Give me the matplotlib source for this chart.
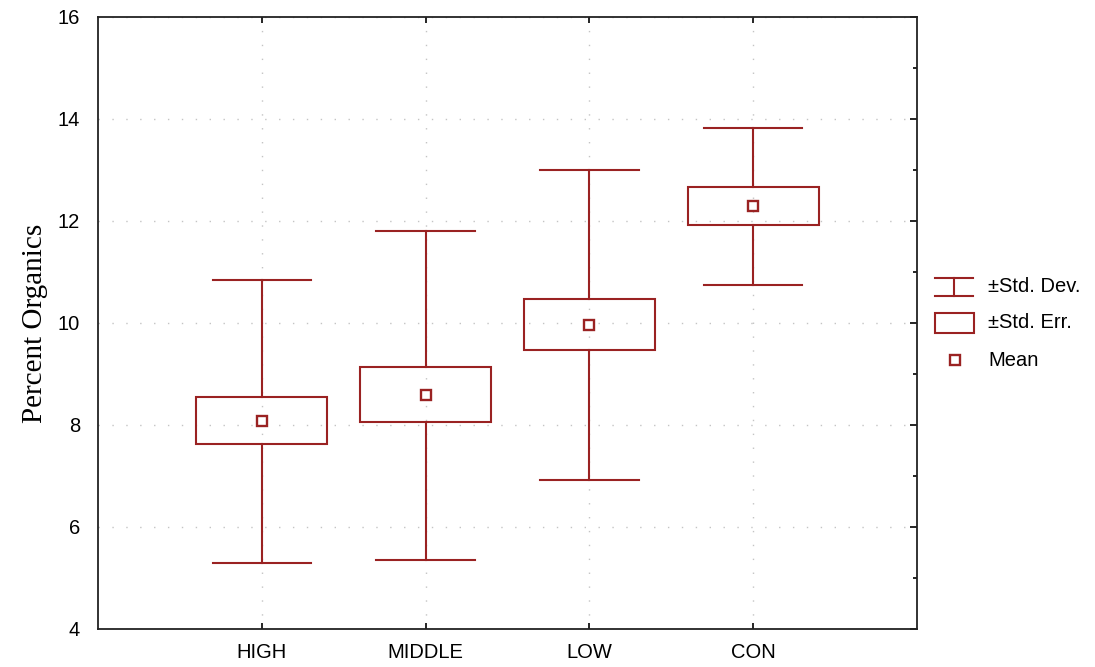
import numpy as np
from matplotlib import pyplot as plt
from matplotlib.patches import Rectangle
from matplotlib.ticker import MultipleLocator

groups = ['HIGH', 'MIDDLE', 'LOW', 'CON']
means = [8.08, 8.59, 9.96, 12.29]
se_lo = [7.63, 8.06, 9.47, 11.92]
se_hi = [8.55, 9.14, 10.47, 12.67]
sd_lo = [5.29, 5.35, 6.92, 10.75]
sd_hi = [10.84, 11.80, 13.00, 13.82]

col = '#9a2222'
box_w = 0.8
cap_w = 0.6

fig = plt.figure(figsize=(10.95, 6.67), dpi=100)
ax = fig.add_axes([98/1095, 38/667, 819/1095, 612/667])

xs = np.arange(1, len(groups) + 1)
for x, m, lo, hi, dlo, dhi in zip(xs, means, se_lo, se_hi, sd_lo, sd_hi):
    # whiskers (std dev)
    ax.plot([x, x], [hi, dhi], color=col, lw=1.5, zorder=3)
    ax.plot([x, x], [dlo, lo], color=col, lw=1.5, zorder=3)
    ax.plot([x - cap_w/2, x + cap_w/2], [dhi, dhi], color=col, lw=1.5, zorder=3)
    ax.plot([x - cap_w/2, x + cap_w/2], [dlo, dlo], color=col, lw=1.5, zorder=3)
    # box (std err)
    ax.add_patch(Rectangle((x - box_w/2, lo), box_w, hi - lo, fill=False,
                           edgecolor=col, lw=1.5, zorder=3))
ax.plot(xs, means, 's', ms=7, mfc='white', mec=col, mew=1.7, ls='none', zorder=4)

ax.set_xlim(0, 5)
ax.set_ylim(4, 16)
ax.set_xticks(xs)
ax.set_xticklabels(groups, fontsize=14.5, family='Liberation Sans')
ax.yaxis.set_major_locator(MultipleLocator(2))
ax.yaxis.set_minor_locator(MultipleLocator(1))
for lab in ax.get_yticklabels():
    lab.set_family('Liberation Sans')
    lab.set_fontsize(14.5)
ax.tick_params(axis='x', direction='in', top=True, length=4, width=1.2, pad=10)
ax.tick_params(axis='y', which='both', direction='in', left=False, right=True,
               width=1.2, pad=13)
ax.tick_params(axis='y', which='major', length=5)
ax.tick_params(axis='y', which='minor', length=3)
ax.grid(True, which='major', color='#c4c4c4', lw=1, ls=(0, (1, 9)))
for s in ax.spines.values():
    s.set_linewidth(1.3)
    s.set_color('#222222')
ax.set_ylabel('Percent Organics', family='Liberation Serif', fontsize=21, labelpad=7)

# legend drawn in pixel coords
lg = fig.add_axes([920/1095, 0, 175/1095, 1])
lg.set_xlim(920, 1095)
lg.set_ylim(667, 0)
lg.axis('off')
lg.plot([935, 973], [278, 278], color=col, lw=1.5)
lg.plot([935, 973], [296, 296], color=col, lw=1.5)
lg.plot([954, 954], [278, 296], color=col, lw=1.5)
lg.add_patch(Rectangle((935, 313), 39, 20, fill=False, edgecolor=col, lw=1.5))
lg.plot([955], [360], 's', ms=7, mfc='white', mec=col, mew=1.7)
lg_txt = ['±Std. Dev.', '±Std. Err.', 'Mean']
for t, y in zip(lg_txt, [287, 323, 360]):
    lg.text(988, y, t, va='center', ha='left', fontsize=14.5, family='Liberation Sans')

fig.savefig('out.png', dpi=100)
